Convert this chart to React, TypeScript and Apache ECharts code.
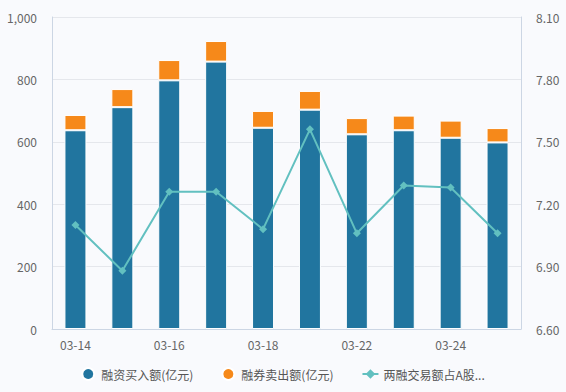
import React, { useEffect, useRef } from "react";
import * as echarts from "echarts";

const categories = ["03-14", "03-15", "03-16", "03-17", "03-18", "03-21", "03-22", "03-23", "03-24", "03-25"];
const financingBuy = [637, 711, 797, 857, 645, 703, 624, 637, 613, 598];
const securitiesSell = [49, 58, 65, 66, 54, 60, 52, 47, 55, 46];
const ratio = [7.10, 6.88, 7.26, 7.26, 7.08, 7.56, 7.06, 7.29, 7.28, 7.06];
const seriesNames = ["融资买入额(亿元)", "融券卖出额(亿元)", "两融交易额占A股成交额比(%)"];

const FONT = "'Noto Sans CJK SC', 'Noto Sans', sans-serif";

export default function App() {
  const ref = useRef<HTMLDivElement>(null);
  useEffect(() => {
    if (!ref.current) return;
    const chart = echarts.init(ref.current, undefined, { renderer: "svg" });
    chart.setOption({
      animation: false,
      backgroundColor: "#f9fafd",
      textStyle: { fontFamily: FONT },
      grid: { left: 52, right: 45, top: 17, bottom: 63 },
      legend: {
        left: "center",
        bottom: 6,
        itemWidth: 16,
        itemHeight: 12,
        itemGap: 28,
        textStyle: { color: "#555", fontSize: 12, fontFamily: FONT },
        formatter: (name: string) => (name.length > 12 ? name.slice(0, 8) + "..." : name),
        data: [
          { name: seriesNames[0], icon: "circle" },
          { name: seriesNames[1], icon: "circle" },
          { name: seriesNames[2] },
        ],
      },
      xAxis: {
        type: "category",
        data: categories,
        axisLine: { lineStyle: { color: "#ccd6e4" } },
        axisTick: { alignWithLabel: true, interval: 0, lineStyle: { color: "#ccd6e4" } },
        axisLabel: { interval: 1, color: "#666", fontSize: 12, margin: 9, fontFamily: FONT },
      },
      yAxis: [
        {
          type: "value",
          min: 0,
          max: 1000,
          interval: 200,
          axisLine: { show: true, lineStyle: { color: "#ccd6e4" } },
          axisTick: { show: false },
          axisLabel: { color: "#666", fontSize: 12, margin: 15, fontFamily: FONT },
          splitLine: { lineStyle: { color: "#e5e7ec" } },
        },
        {
          type: "value",
          min: 6.6,
          max: 8.1,
          interval: 0.3,
          position: "right",
          axisLine: { show: true, lineStyle: { color: "#ccd6e4" } },
          axisTick: { show: false },
          axisLabel: {
            color: "#666",
            fontSize: 12,
            margin: 15,
            fontFamily: FONT,
            formatter: (v: number) => v.toFixed(2),
          },
          splitLine: { show: false },
        },
      ],
      series: [
        {
          name: seriesNames[0],
          type: "bar",
          stack: "total",
          barWidth: 22,
          data: financingBuy,
          itemStyle: { color: "#21759f", borderColor: "#fff", borderWidth: 1 },
        },
        {
          name: seriesNames[1],
          type: "bar",
          stack: "total",
          barWidth: 22,
          data: securitiesSell,
          itemStyle: { color: "#f6891a", borderColor: "#fff", borderWidth: 1 },
        },
        {
          name: seriesNames[2],
          type: "line",
          yAxisIndex: 1,
          data: ratio,
          symbol: "diamond",
          symbolSize: 8,
          lineStyle: { color: "#62c0c0", width: 2 },
          itemStyle: { color: "#62c0c0" },
        },
      ],
    });
    return () => chart.dispose();
  }, []);
  return <div ref={ref} style={{ width: 566, height: 392, position: "fixed", left: 0, top: 0 }} />;
}
